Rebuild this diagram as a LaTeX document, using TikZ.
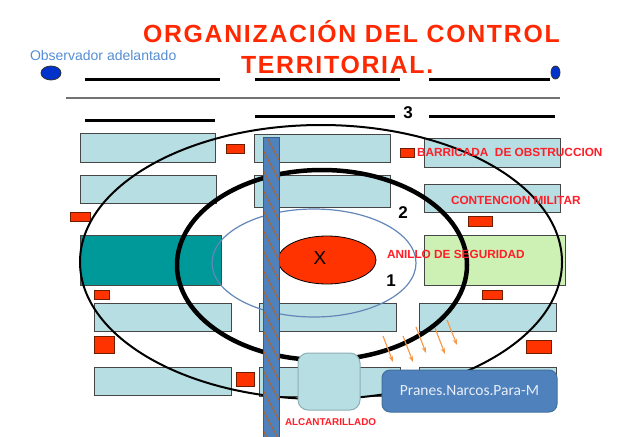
\documentclass[tikz,border=0pt]{standalone}
\usepackage{fontspec}
\setmainfont{Liberation Sans}
\newfontfamily\carlito{Carlito}
\usetikzlibrary{arrows.meta,shapes.geometric}
\definecolor{titlered}{RGB}{255,40,0}
\definecolor{lblred}{RGB}{255,30,40}
\definecolor{obsblue}{RGB}{85,142,213}
\definecolor{lightbox}{RGB}{183,222,226}
\definecolor{boxline}{RGB}{70,70,70}
\definecolor{tealfill}{RGB}{0,153,153}
\definecolor{greenfill}{RGB}{205,240,180}
\definecolor{smallred}{RGB}{255,51,0}
\definecolor{smallredline}{RGB}{110,30,0}
\definecolor{barblue}{RGB}{79,129,189}
\definecolor{barline}{RGB}{56,93,138}
\definecolor{hatchc}{RGB}{175,100,45}
\definecolor{ringblue}{RGB}{100,135,185}
\definecolor{markblue}{RGB}{0,51,204}
\definecolor{arrowor}{RGB}{247,150,70}
\definecolor{alcline}{RGB}{140,175,180}
\definecolor{pranestext}{RGB}{232,238,248}
\definecolor{pranesline}{RGB}{65,113,156}
\tikzset{
  base/.style={inner sep=0pt, outer sep=0pt},
  lbox/.style={base, rectangle, draw=boxline, line width=0.9pt, fill=lightbox},
  tealbox/.style={base, rectangle, draw=boxline, line width=0.9pt, fill=tealfill},
  greenbox/.style={base, rectangle, draw=boxline, line width=0.9pt, fill=greenfill},
  redbox/.style={base, rectangle, draw=smallredline, line width=0.8pt, fill=smallred},
  thickline/.style={line width=3pt, black},
  lbl/.style={base, anchor=base west, text=lblred, font=\fontsize{11.8}{13}\selectfont\bfseries},
  num/.style={base, font=\fontsize{17}{19}\selectfont\bfseries},
  titletext/.style={base, anchor=base west, text=titlered, font=\fontsize{24.8}{28}\selectfont\bfseries\addfontfeature{LetterSpace=7}},
  flowarrow/.style={draw=arrowor, line width=1.1pt, -{Stealth[length=6pt,width=4.5pt]}},
  hatch/.style={draw=hatchc, line width=1pt}
}
\begin{document}
\begin{tikzpicture}[x=1pt,y=-1pt]
\useasboundingbox (0,0) rectangle (617,436);
\fill[white] (0,0) rectangle (617,436);

% title and observer
\node[titletext] (t1) at (143,42) {ORGANIZACIÓN DEL CONTROL};
\node[titletext] (t2) at (241,73) {TERRITORIAL.};
\node[base, anchor=base west, text=obsblue, font=\fontsize{14}{16}\selectfont] (obs) at (30,60) {Observador adelantado};
\node[base, ellipse, draw=black!80, line width=0.8pt, fill=markblue, minimum width=20pt, minimum height=14pt] (mL) at (51,73) {};
\node[base, ellipse, draw=black!80, line width=0.8pt, fill=markblue, minimum width=9pt, minimum height=13pt] (mR) at (555.5,72.5) {};

% top lines
\draw[thickline] (85,79) -- (220,79);
\draw[thickline] (255,79) -- (400,79);
\draw[thickline] (429,79) -- (550,79);
\draw[line width=1.2pt, black!55] (66,98) -- (560,98);
\draw[thickline] (85,120) -- (215,120);
\draw[thickline] (255,116) -- (395,116);
\draw[thickline] (429,116) -- (555,116);
\node[num] (n3) at (408,113) {3};

% blocks
\node[lbox, minimum width=135pt, minimum height=29pt] (L1) at (147.5,147.5) {};
\node[lbox, minimum width=136pt, minimum height=28pt] (L2) at (148,189) {};
\node[tealbox, minimum width=141pt, minimum height=50pt] (L3) at (150.5,260) {};
\node[lbox, minimum width=137pt, minimum height=28pt] (L4) at (162.5,317) {};
\node[lbox, minimum width=137pt, minimum height=28pt] (L5) at (162.5,381) {};
\node[lbox, minimum width=136pt, minimum height=28pt] (M1) at (322,148) {};
\node[lbox, minimum width=136pt, minimum height=32pt] (M2) at (322,191) {};
\node[lbox, minimum width=137pt, minimum height=28pt] (M3) at (327.5,317) {};
\node[lbox, minimum width=141pt, minimum height=29pt] (M4) at (329.5,381.5) {};
\node[lbox, minimum width=136pt, minimum height=29pt] (R1b) at (492,152.5) {};
\node[lbox, minimum width=136pt, minimum height=28pt] (R2b) at (492,198) {};
\node[greenbox, minimum width=141pt, minimum height=50pt] (R3b) at (494.5,260) {};
\node[lbox, minimum width=137pt, minimum height=28pt] (R4b) at (487.5,317) {};
\node[lbox, minimum width=137pt, minimum height=28pt] (R5b) at (487.5,381) {};

% small red blocks
\node[redbox, minimum width=18pt, minimum height=9pt] (s1) at (235,148.5) {};
\node[redbox, minimum width=20pt, minimum height=9pt] (s2) at (80,216.5) {};
\node[redbox, minimum width=15pt, minimum height=9pt] (s3) at (101.5,294.5) {};
\node[redbox, minimum width=20pt, minimum height=17pt] (s4) at (104,344.5) {};
\node[redbox, minimum width=18pt, minimum height=14pt] (s5) at (245,379) {};
\node[redbox, minimum width=14pt, minimum height=9pt] (s6) at (407,152.5) {};
\node[redbox, minimum width=24pt, minimum height=10pt] (s7) at (480,221) {};
\node[redbox, minimum width=20pt, minimum height=9pt] (s8) at (492,294.5) {};
\node[redbox, minimum width=25pt, minimum height=13pt] (s9) at (538.5,346.5) {};

% rings
\draw[line width=2pt, black] (321,262) ellipse [x radius=241pt, y radius=137pt];
\draw[line width=4.5pt, black] (322,265) ellipse [x radius=145pt, y radius=95pt];
\draw[line width=1.2pt, ringblue] (314,263) ellipse [x radius=102pt, y radius=54pt];
\node[base, ellipse, draw=black, line width=0.8pt, fill=smallred, minimum width=98pt, minimum height=48pt] (target) at (327,260) {};
\node[base, font=\fontsize{19}{21}\selectfont] (xl) at (320,258) {X};

% vertical bar
\node[base, rectangle, draw=barline, line width=0.9pt, fill=barblue, minimum width=16pt, minimum height=304pt, anchor=north west] (bar) at (263,137) {};
\begin{scope}
\clip (263,137) rectangle (279,441);
\foreach \yy in {130,150,...,440} \draw[hatch] (263,\yy) -- (279,\yy+30);
\end{scope}
\draw[draw=barline, line width=0.9pt] (263,441) -- (263,137) -- (279,137) -- (279,441);

% alcantarillado and pranes
\node[base, rectangle, rounded corners=10pt, draw=alcline, line width=1pt, fill=lightbox, minimum width=62pt, minimum height=57pt] (alc) at (329,381.5) {};
\node[lbl, font=\fontsize{9.9}{11}\selectfont\bfseries] (alct) at (285,425) {ALCANTARILLADO};
\node[base, rectangle, rounded corners=8pt, draw=pranesline, line width=1pt, fill=barblue, minimum width=175pt, minimum height=42pt, text=pranestext, font=\carlito\fontsize{15.5}{17}\selectfont] (pranes) at (469.5,391) {Pranes.Narcos.Para-M};

% arrows
\coordinate (a1s) at (383,336); \coordinate (a1e) at (393,362);
\coordinate (a2s) at (403,336); \coordinate (a2e) at (413,362);
\coordinate (a3s) at (416,327); \coordinate (a3e) at (426,353);
\coordinate (a4s) at (435,328); \coordinate (a4e) at (445,354);
\coordinate (a5s) at (447,320); \coordinate (a5e) at (457,345);
\draw[flowarrow] (a1s) -- (a1e);
\draw[flowarrow] (a2s) -- (a2e);
\draw[flowarrow] (a3s) -- (a3e);
\draw[flowarrow] (a4s) -- (a4e);
\draw[flowarrow] (a5s) -- (a5e);

% labels
\node[lbl] (barr) at (417,156) {BARRICADA\ \ DE OBSTRUCCION};
\node[lbl] (cont) at (451,204) {CONTENCION MILITAR};
\node[lbl] (anil) at (387,258) {ANILLO DE SEGURIDAD};
\node[num] (n2) at (403,213) {2};
\node[num] (n1) at (391,281) {1};
\end{tikzpicture}
\end{document}
